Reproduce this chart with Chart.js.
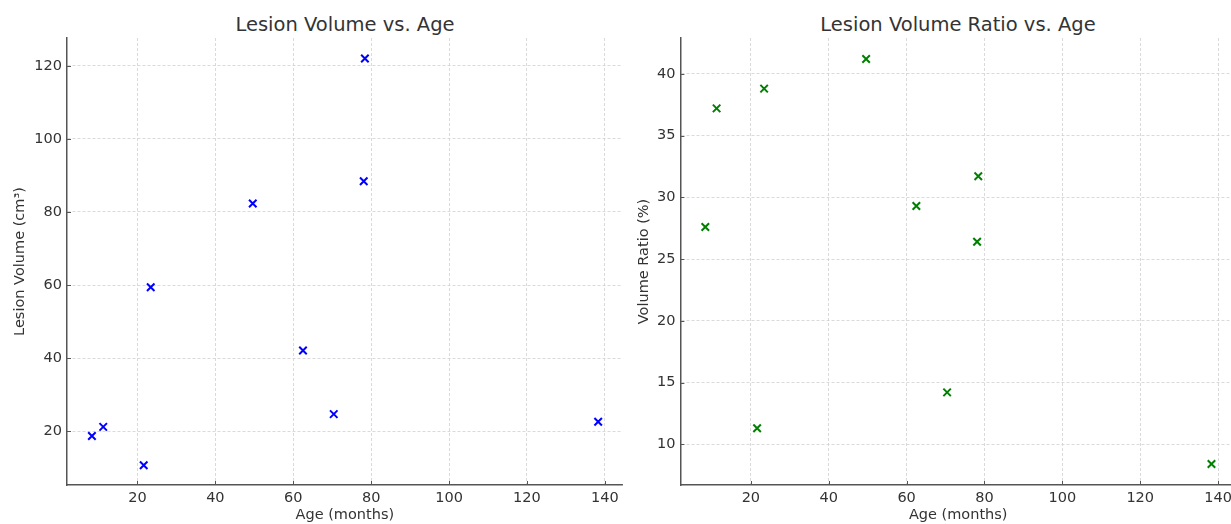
<!DOCTYPE html>
<html>
<head>
<meta charset="utf-8">
<title>Lesion Volume vs. Age</title>
<script src="https://cdn.jsdelivr.net/npm/chart.js@4.4.1/dist/chart.umd.min.js"></script>
<style>
  body { margin: 0; width: 1231px; height: 524px; overflow: hidden; background: #fff; font-family: "DejaVu Sans", sans-serif; }
  .title { position: absolute; top: 15px; font-size: 19.5px; line-height: 20px; color: #333; white-space: nowrap; transform: translateX(-50%); }
  #leftWrap { position: absolute; left: 0; top: 0; width: 630px; height: 524px; }
  #rightWrap { position: absolute; left: 625px; top: 0; width: 640px; height: 524px; }
</style>
</head>
<body>

<div class="title" style="left:345px">Lesion Volume vs. Age</div>
<div class="title" style="left:958px">Lesion Volume Ratio vs. Age</div>

<div id="leftWrap"><canvas id="chartVolume"></canvas></div>
<div id="rightWrap"><canvas id="chartRatio"></canvas></div>

<script>
// ages of the 10 patients (months)
var ageMonths = [8.3, 11.2, 21.6, 23.4, 49.6, 62.5, 70.4, 78.1, 78.4, 138.3];
// lesion volume (cm3)
var lesionVolume = [18.7, 21.2, 10.7, 59.4, 82.3, 42.1, 24.7, 88.4, 122.0, 22.6];
// lesion volume ratio (%)
var volumeRatio = [27.6, 37.2, 11.3, 38.8, 41.2, 29.3, 14.2, 26.4, 31.7, 8.4];

// axis limits
var ageRange = [1.9, 144.6];
var volumeRange = [5.3, 127.6];
var ratioRange = [6.7, 42.9];

Chart.defaults.font.family = "'DejaVu Sans', sans-serif";
Chart.defaults.color = '#333';

// small ticks pointing into the plot, like the original
var innerTicks = {
  id: 'innerTicks',
  afterDatasetsDraw: function(chart) {
    var ctx = chart.ctx, area = chart.chartArea;
    ctx.save();
    ctx.strokeStyle = '#555';
    ctx.lineWidth = 1;
    chart.scales.x.ticks.forEach(function(t) {
      var px = Math.round(chart.scales.x.getPixelForValue(t.value)) + 0.5;
      ctx.beginPath(); ctx.moveTo(px, area.bottom); ctx.lineTo(px, area.bottom - 4); ctx.stroke();
    });
    chart.scales.y.ticks.forEach(function(t) {
      var py = Math.round(chart.scales.y.getPixelForValue(t.value)) + 0.5;
      ctx.beginPath(); ctx.moveTo(area.left, py); ctx.lineTo(area.left + 4, py); ctx.stroke();
    });
    ctx.restore();
  }
};

function makeChart(id, values, colour, yTitle, yRange, yStep, yWidth, yTitlePad, padRight) {
  var pts = [];
  for (var i = 0; i < ageMonths.length; i++) {
    pts.push({x: ageMonths[i], y: values[i]});
  }
  var gridOpts = { color: '#d0d0d0', lineWidth: 0.8, drawTicks: false };
  // in v4 border.dash is what dashes the grid lines
  var borderOpts = { display: true, color: '#555', width: 1.5, dash: [3, 2] };

  return new Chart(document.getElementById(id), {
    type: 'scatter',
    data: {
      datasets: [{
        data: pts,
        pointStyle: 'crossRot',
        radius: 5.3,
        borderWidth: 2,
        borderColor: colour,
        backgroundColor: colour
      }]
    },
    options: {
      responsive: true,
      maintainAspectRatio: false,
      animation: false,
      layout: { padding: { top: 38, right: padRight, left: 0, bottom: 0 } },
      plugins: { legend: { display: false }, tooltip: { enabled: false } },
      scales: {
        x: {
          type: 'linear',
          min: ageRange[0], max: ageRange[1],
          grid: gridOpts,
          border: borderOpts,
          ticks: { stepSize: 20, includeBounds: false, padding: 5, font: { size: 14.5 }, color: '#333' },
          title: { display: true, text: 'Age (months)', font: { size: 14.5 }, color: '#333', padding: { top: 0, bottom: 0 } },
          afterFit: function(s) { s.height = 39; }
        },
        y: {
          type: 'linear',
          min: yRange[0], max: yRange[1],
          grid: gridOpts,
          border: borderOpts,
          ticks: { stepSize: yStep, includeBounds: false, padding: 5, font: { size: 14.5 }, color: '#333' },
          title: { display: true, text: yTitle, font: { size: 14.5 }, color: '#333', padding: { top: yTitlePad, bottom: 0 } },
          afterFit: function(s) { s.width = yWidth; }
        }
      }
    },
    plugins: [innerTicks]
  });
}

makeChart('chartVolume', lesionVolume, '#0000ff', 'Lesion Volume (cm³)', volumeRange, 20, 67, 12, 7);
makeChart('chartRatio', volumeRatio, '#008000', 'Volume Ratio (%)', ratioRange, 5, 55.4, 10.3, 29);
</script>
</body>
</html>
